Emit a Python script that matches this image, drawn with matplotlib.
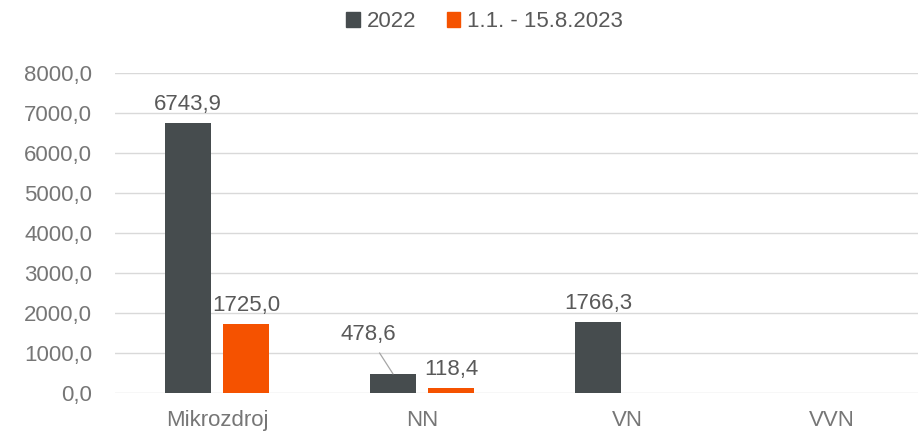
import matplotlib.pyplot as plt
import numpy as np
from matplotlib.patches import Patch

# Data
categories = ["Mikrozdroj", "NN", "VN", "VVN"]
values_2022 = [6743.9, 478.6, 1766.3, None]
values_2023 = [1725.0, 118.4, None, None]
series_names = ["2022", "1.1. - 15.8.2023"]

dark = "#464C4E"
orange = "#F55200"
text_gray = "#595959"
tick_gray = "#767676"
fs = 16

plt.rcParams['font.family'] = ['Liberation Sans', 'DejaVu Sans']

fig = plt.figure(figsize=(9.18, 4.32), dpi=100)
ax = fig.add_axes([114.5 / 918, 39 / 432, 820 / 918, 320 / 432])

x = np.arange(len(categories))
w = 0.224
off = 0.1415

def fmt(v):
    return f"{v:.1f}".replace(".", ",")

# bars
for vals, shift, col in [(values_2022, -off, dark), (values_2023, off, orange)]:
    for i, v in enumerate(vals):
        if v is None:
            continue
        ax.bar(x[i] + shift, v, width=w, color=col, zorder=3)
        if categories[i] == "NN" and col == dark:
            # label pulled out with a leader line
            ax.annotate(fmt(v), xy=(x[i] + shift, v), xytext=(-18, 28),
                        textcoords="offset points", ha="center", va="center",
                        fontsize=fs, color=text_gray,
                        arrowprops=dict(arrowstyle="-", color="#A6A6A6", lw=0.9,
                                        shrinkA=4, shrinkB=0))
        else:
            ax.annotate(fmt(v), xy=(x[i] + shift, v), xytext=(0, 6),
                        textcoords="offset points", ha="center", va="bottom",
                        fontsize=fs, color=text_gray)

ax.set_xlim(-0.5, len(categories) - 0.5)
ax.set_ylim(0, 8000)
ax.set_yticks(np.arange(0, 8001, 1000))
ax.set_yticklabels([fmt(t) for t in np.arange(0, 8001, 1000)])
ax.set_xticks(x)
ax.set_xticklabels(categories)
ax.tick_params(axis="both", length=0, labelsize=fs, colors=tick_gray)
ax.tick_params(axis="y", pad=16)
ax.tick_params(axis="x", pad=12)
ax.grid(axis="y", color="#D9D9D9", lw=1, zorder=0)
for s in ax.spines.values():
    s.set_visible(False)

handles = [Patch(color=dark), Patch(color=orange)]
fig.legend(handles, series_names, loc="upper center", bbox_to_anchor=(0.528, 1.02),
           ncol=2, frameon=False, fontsize=fs, labelcolor=text_gray,
           handlelength=0.6, handleheight=0.6, handletextpad=0.3,
           columnspacing=1.4)

fig.savefig("out.png", dpi=100)
